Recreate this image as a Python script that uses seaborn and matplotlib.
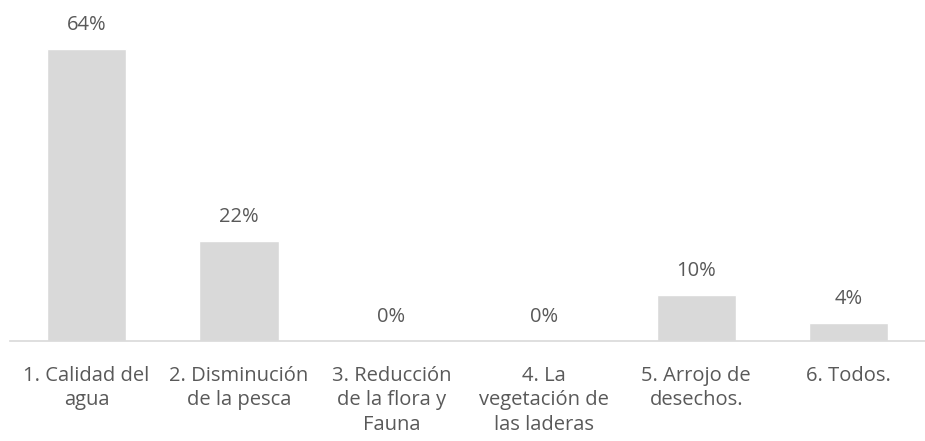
import matplotlib
matplotlib.use('Agg')
import matplotlib.pyplot as plt
import seaborn as sns
import pandas as pd

# Datos del gráfico
categorias = ['1. Calidad del\nagua', '2. Disminución\nde la pesca', '3. Reducción\nde la flora y\nFauna',
              '4. La\nvegetación de\nlas laderas', '5. Arrojo de\ndesechos.', '6. Todos.']
porcentajes = [64, 22, 0, 0, 10, 4]

df = pd.DataFrame({'Categoria': categorias, 'Porcentaje': porcentajes})

sns.set_style('white')
plt.rcParams['font.family'] = ['Open Sans', 'DejaVu Sans']

gris_barra = '#d9d9d9'
gris_texto = '#595959'

fig = plt.figure(figsize=(9.25, 4.41), dpi=100)
ax = fig.add_axes([0.011, 0.2268, 0.989, 0.745])

sns.barplot(data=df, x='Categoria', y='Porcentaje', color=gris_barra, width=0.52,
            saturation=1, ax=ax)

ax.set_ylim(0, 72)
ax.set_xlim(-0.5, 5.5)
ax.set_xlabel('')
ax.set_ylabel('')
ax.set_yticks([])

for i, v in enumerate(porcentajes):
    ax.annotate(f'{v}%', (i, v), xytext=(0, 10), textcoords='offset points',
                ha='center', va='bottom', fontsize=14.5, color=gris_texto)

ax.tick_params(axis='x', length=0, pad=18, labelsize=14.5, labelcolor=gris_texto)
for lab in ax.get_xticklabels():
    lab.set_linespacing(1.3)

for s in ['top', 'right', 'left']:
    ax.spines[s].set_visible(False)
ax.spines['bottom'].set_color(gris_barra)
ax.spines['bottom'].set_linewidth(1.2)

fig.savefig('out.png', dpi=100)
